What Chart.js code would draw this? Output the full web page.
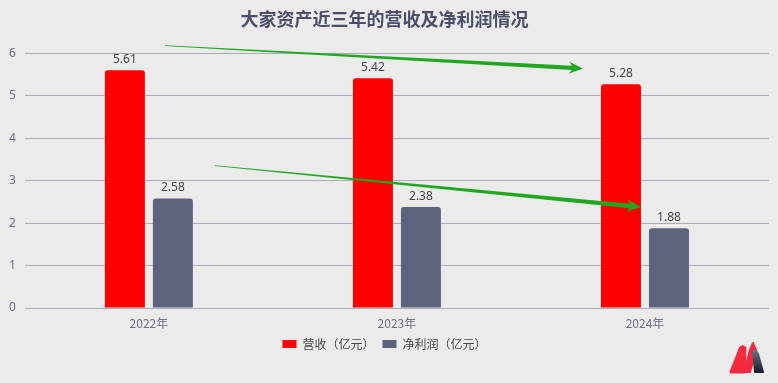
<!DOCTYPE html>
<html>
<head>
<meta charset="utf-8">
<script src="https://cdn.jsdelivr.net/npm/chart.js@4.4.1/dist/chart.umd.min.js"></script>
<style>
  html, body { margin: 0; padding: 0; background: #ebebeb; }
  #wrap { position: relative; width: 778px; height: 383px; }
  #logo { position: absolute; left: 728px; top: 339px; }
</style>
</head>
<body>
<div id="wrap">
  <canvas id="chart" width="778" height="383"></canvas>
  <svg id="logo" width="40" height="38" viewBox="0 0 40 38">
    <defs>
      <linearGradient id="dk" x1="0" y1="0" x2="0" y2="1">
        <stop offset="0" stop-color="#6b7080"/>
        <stop offset="1" stop-color="#1c1f2a"/>
      </linearGradient>
    </defs>
    <path d="M3 33 L12 10 Q14 6 17 9 L16 33 Z" fill="#f2293f" stroke="#f2293f" stroke-width="3" stroke-linejoin="round"/>
    <path d="M16 33 L22 11 L25 4 L28 11 L22 33 Z" fill="#f2293f" stroke="#f2293f" stroke-width="2" stroke-linejoin="round"/>
    <path d="M25 13 Q28 10 30 15 L35 33 L27 33 Z" fill="url(#dk)" stroke="url(#dk)" stroke-width="2" stroke-linejoin="round"/>
  </svg>
</div>
<script>
const categories = ["2022年", "2023年", "2024年"];
const revenue = [5.61, 5.42, 5.28];
const netProfit = [2.58, 2.38, 1.88];
const seriesNames = ["营收（亿元）", "净利润（亿元）"];
const yTicks = [0, 1, 2, 3, 4, 5, 6];
// trend arrows: [categoryIndex, value] start -> end
const arrows = [
  [[0.065, 6.19], [1.75, 5.65]],
  [[0.266, 3.36], [1.984, 2.38]],
];

const C = {
  red: "#ff0000",
  slate: "#5d637c",
  text: "#444444",
  dimText: "#6b6f88",
  grid: "#a9abbb",
  title: "#4a4e69",
  green: "#1fa81f",
};

const valueLabels = {
  id: "valueLabels",
  afterDatasetsDraw(chart) {
    const ctx = chart.ctx;
    ctx.save();
    ctx.font = "12px 'Noto Sans', sans-serif";
    ctx.fillStyle = C.text;
    ctx.textAlign = "center";
    ctx.textBaseline = "bottom";
    chart.data.datasets.forEach((ds, i) => {
      chart.getDatasetMeta(i).data.forEach((bar, j) => {
        ctx.fillText(ds.data[j].toFixed(2), bar.x, bar.y - 5);
      });
    });
    ctx.restore();
  },
};

const trendArrows = {
  id: "trendArrows",
  afterDatasetsDraw(chart) {
    const ctx = chart.ctx;
    const xs = chart.scales.x, ys = chart.scales.y;
    const x0 = xs.getPixelForValue(0), step = xs.getPixelForValue(1) - x0;
    const px = (p) => [x0 + p[0] * step, ys.getPixelForValue(p[1])];
    ctx.save();
    ctx.fillStyle = C.green;
    arrows.forEach(([s, e]) => {
      const [sx, sy] = px(s), [ex, ey] = px(e);
      const ang = Math.atan2(ey - sy, ex - sx);
      const len = Math.hypot(ex - sx, ey - sy);
      ctx.save();
      ctx.translate(sx, sy);
      ctx.rotate(ang);
      const head = 14;
      ctx.beginPath();
      ctx.moveTo(0, -0.4);
      ctx.lineTo(len - head + 3, -2.2);
      ctx.lineTo(len - head, -6);
      ctx.lineTo(len, 0);
      ctx.lineTo(len - head, 6);
      ctx.lineTo(len - head + 3, 2.2);
      ctx.lineTo(0, 0.4);
      ctx.closePath();
      ctx.fill();
      ctx.restore();
    });
    ctx.restore();
  },
};

new Chart(document.getElementById("chart"), {
  type: "bar",
  data: {
    labels: categories,
    datasets: [
      {
        label: seriesNames[0],
        data: revenue,
        backgroundColor: C.red,
        borderRadius: { topLeft: 3, topRight: 3 },
        borderSkipped: "bottom",
        barPercentage: 0.833,
        categoryPercentage: 0.387,
      },
      {
        label: seriesNames[1],
        data: netProfit,
        backgroundColor: C.slate,
        borderRadius: { topLeft: 3, topRight: 3 },
        borderSkipped: "bottom",
        barPercentage: 0.833,
        categoryPercentage: 0.387,
      },
    ],
  },
  options: {
    responsive: false,
    animation: false,
    layout: { padding: { left: 0, right: 9, top: 0, bottom: 23 } },
    plugins: {
      title: {
        display: true,
        text: "大家资产近三年的营收及净利润情况",
        color: C.title,
        font: { size: 18, weight: "bold", family: "'Noto Sans CJK SC', sans-serif" },
        padding: { top: 8, bottom: 24 },
      },
      legend: {
        position: "bottom",
        labels: {
          color: C.text,
          font: { size: 12, family: "'Noto Sans CJK SC', sans-serif" },
          boxWidth: 14,
          boxHeight: 8,
          padding: 8,
        },
      },
      tooltip: { enabled: false },
    },
    scales: {
      x: {
        grid: { display: false },
        border: { display: false },
        afterFit: (axis) => { axis.height = 22; },
        ticks: { color: C.dimText, font: { size: 12, family: "'Noto Sans CJK SC', sans-serif" }, padding: 0 },
      },
      y: {
        min: 0,
        max: 6,
        afterBuildTicks: (axis) => { axis.ticks = yTicks.map((v) => ({ value: v })); },
        grid: { color: C.grid, drawTicks: false },
        border: { display: false },
        ticks: { color: C.dimText, font: { size: 12, family: "'Noto Sans', sans-serif" }, padding: 9 },
      },
    },
  },
  plugins: [valueLabels, trendArrows],
});
</script>
</body>
</html>
